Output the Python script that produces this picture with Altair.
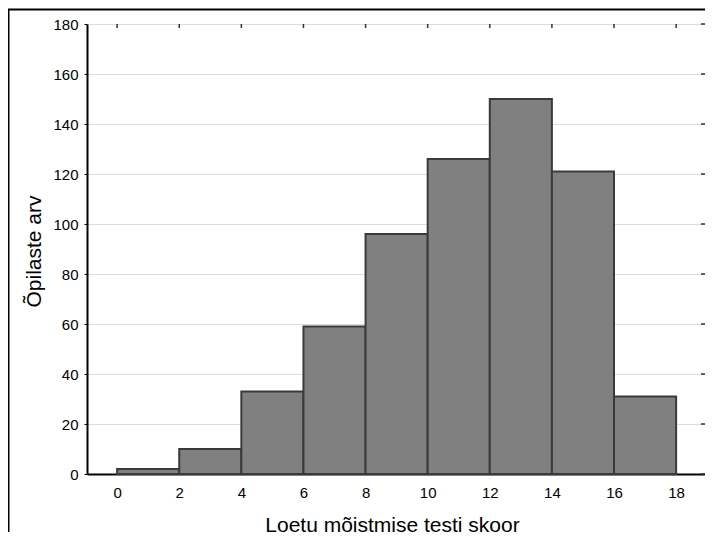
import altair as alt
import pandas as pd

bin_start = [0, 2, 4, 6, 8, 10, 12, 14, 16]
bin_end = [2, 4, 6, 8, 10, 12, 14, 16, 18]
counts = [2, 10, 33, 59, 96, 126, 150, 121, 31]
x_ticks = [0, 2, 4, 6, 8, 10, 12, 14, 16, 18]
y_ticks = [0, 20, 40, 60, 80, 100, 120, 140, 160, 180]

df = pd.DataFrame({"start": bin_start, "end": bin_end, "count": counts})
xt = pd.DataFrame({"t": x_ticks})
yt = pd.DataFrame({"v": y_ticks})

FONT = "Liberation Sans"
W, H = 618, 450

xscale = alt.Scale(domain=[-0.97, 18.93], nice=False, zero=False)
yscale = alt.Scale(domain=[0, 180], nice=False)

bars = alt.Chart(df).mark_rect(
    fill="#808080", stroke="#3a3a3a", strokeWidth=2
).encode(
    x=alt.X("start:Q", scale=xscale,
            axis=alt.Axis(values=x_ticks, title="Loetu mõistmise testi skoor",
                          grid=False, tickSize=0, labelPadding=11,
                          labelFontSize=15, labelFont=FONT, labelColor="black",
                          domainColor="black", domainWidth=2,
                          titleFont=FONT, titleFontSize=21, titleFontWeight="normal",
                          titleColor="black", titleBaseline="alphabetic",
                          titleX=305, titleY=57, titleAlign="center")),
    x2="end:Q",
    y=alt.Y("count:Q", scale=yscale,
            axis=alt.Axis(values=y_ticks, title="Õpilaste arv",
                          grid=True, gridColor="#dcdcdc", gridWidth=1,
                          tickSize=3, tickColor="black", labelPadding=6,
                          labelFontSize=15, labelFont=FONT, labelColor="black",
                          domainColor="black", domainWidth=2,
                          titleFont=FONT, titleFontSize=21, titleFontWeight="normal",
                          titleColor="black", titleAngle=270,
                          titleBaseline="alphabetic", titleAlign="center",
                          titleX=-47, titleY=227)),
    y2=alt.datum(0),
)

top_ticks = alt.Chart(xt).mark_rule(color="#333333", strokeWidth=1.5).encode(
    x=alt.X("t:Q", scale=xscale),
    y=alt.value(0), y2=alt.value(4),
)

right_ticks = alt.Chart(yt).mark_rule(color="#333333", strokeWidth=1.5).encode(
    y=alt.Y("v:Q", scale=yscale),
    x=alt.value(W), x2=alt.value(W - 4),
)

frame = alt.Chart(pd.DataFrame({"a": [0]})).mark_rect(
    filled=False, stroke="black", strokeWidth=2
).encode(
    x=alt.value(-78.5), x2=alt.value(640),
    y=alt.value(-14.5), y2=alt.value(540),
)

chart = alt.layer(bars, top_ticks, right_ticks, frame).properties(
    width=W, height=H,
    autosize=alt.AutoSizeParams(type="none"),
    padding={"left": 79, "top": 16, "right": 0, "bottom": 58},
).configure_view(
    stroke="#333333", strokeWidth=1.5
).configure(background="white")

chart.save("out.html", embed_options={"renderer": "svg", "actions": False})
